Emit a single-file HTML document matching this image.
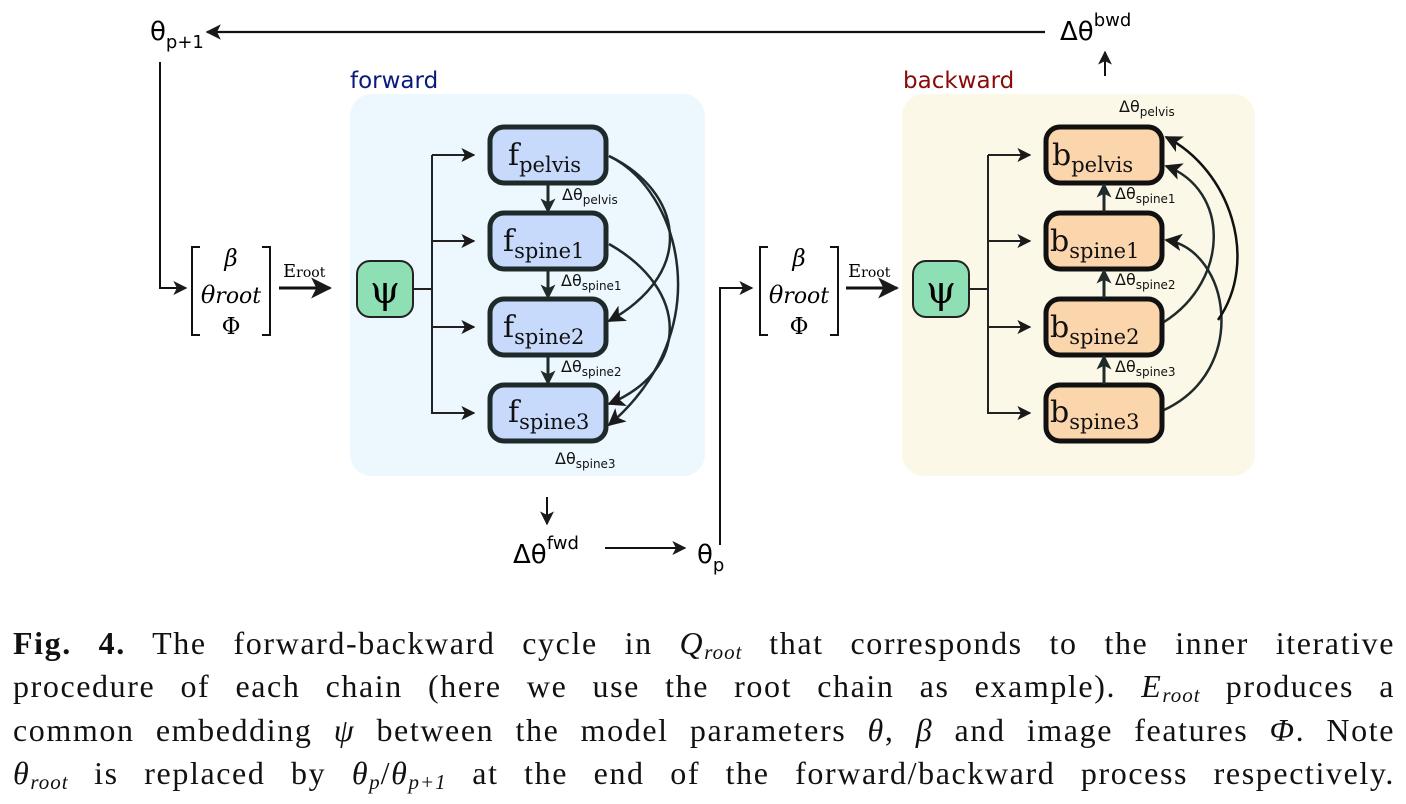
<!DOCTYPE html>
<html><head><meta charset="utf-8"><style>
html,body{margin:0;padding:0;background:#fff;width:1406px;height:797px;overflow:hidden}
svg{position:absolute;left:0;top:0}
.cap{position:absolute;left:13px;top:622px;width:1382px;font-family:"Liberation Serif",serif;font-size:32px;letter-spacing:1.6px;line-height:43.3px;color:#111}
.cap div{text-align:justify;text-align-last:justify;white-space:nowrap;height:43.3px}
.cap i{font-style:italic}
.cap sub{font-size:21px;vertical-align:-5px;letter-spacing:1px}
</style></head><body>
<svg width="1406" height="600" viewBox="0 0 1406 600" font-family="'DejaVu Sans','Liberation Sans',sans-serif">
<defs>
<marker id="a" viewBox="0 0 10 10" refX="9" refY="5" markerWidth="7" markerHeight="7" orient="auto-start-reverse"><path d="M0,0 L10,5 L0,10 L2.5,5z" fill="#1a1a1a"/></marker>
<marker id="b" viewBox="0 0 10 10" refX="9" refY="5" markerWidth="5" markerHeight="5" orient="auto"><path d="M0,0 L10,5 L0,10 L2.5,5z" fill="#1f2a2a"/></marker>
</defs>
<rect x="350" y="94" width="355" height="382" rx="22" fill="#ecf8fd"/>
<rect x="902" y="94" width="353" height="382" rx="22" fill="#fcf8e8"/>
<text x="350" y="88" font-size="23" fill="#0a1a7a">forward</text>
<text x="903" y="88" font-size="23" fill="#8a0a0a">backward</text>
<line x1="1045" y1="32" x2="207" y2="32" stroke="#111" stroke-width="2.2" marker-end="url(#a)"/>
<text x="150" y="40" font-size="26">θ<tspan font-size="18" dy="8">p+1</tspan></text>
<text x="1060" y="40" font-size="26">Δθ<tspan font-size="18" dy="-14">bwd</tspan></text>
<line x1="1105" y1="76" x2="1105" y2="52" stroke="#111" stroke-width="2" marker-end="url(#a)"/>
<polyline points="160,62 160,288 186,288" fill="none" stroke="#111" stroke-width="2" marker-end="url(#a)"/>
<g fill="none" stroke="#111" stroke-width="2"><path d="M200,247 h-8 v88 h8"/><path d="M262,247 h8 v88 h-8"/>
<path d="M768,247 h-8 v88 h8"/><path d="M830,247 h8 v88 h-8"/></g>
<g font-family="'DejaVu Serif','Liberation Serif',serif" text-anchor="middle">
<text x="231" y="266" font-size="23" font-style="italic">β</text>
<text x="231" y="303" font-size="24" font-style="italic">θ<tspan font-size="22">root</tspan></text>
<text x="231" y="334" font-size="23">Φ</text>
<text x="799" y="266" font-size="23" font-style="italic">β</text>
<text x="799" y="303" font-size="24" font-style="italic">θ<tspan font-size="22">root</tspan></text>
<text x="799" y="334" font-size="23">Φ</text>
<text x="283" y="277" font-size="18" text-anchor="start">E<tspan font-size="14">root</tspan></text>
<text x="848" y="277" font-size="18" text-anchor="start">E<tspan font-size="14">root</tspan></text>
</g>
<line x1="279" y1="288" x2="330" y2="288" stroke="#111" stroke-width="3" marker-end="url(#a)"/>
<line x1="846" y1="288" x2="897" y2="288" stroke="#111" stroke-width="3" marker-end="url(#a)"/>
<polyline points="720,545 720,288 752,288" fill="none" stroke="#111" stroke-width="2" marker-end="url(#a)"/>
<line x1="547" y1="497" x2="547" y2="524" stroke="#111" stroke-width="2" marker-end="url(#a)"/>
<text x="513" y="563" font-size="26">Δθ<tspan font-size="18" dy="-14">fwd</tspan></text>
<line x1="605" y1="548" x2="685" y2="548" stroke="#111" stroke-width="2" marker-end="url(#a)"/>
<text x="697" y="563" font-size="26">θ<tspan font-size="18" dy="8">p</tspan></text>
<rect x="357" y="261" width="56" height="56" rx="13" fill="#8ee0b4" stroke="#222" stroke-width="2"/>
<rect x="913" y="261" width="56" height="56" rx="13" fill="#8ee0b4" stroke="#222" stroke-width="2"/>
<text x="385" y="303" font-size="38" text-anchor="middle" font-family="'DejaVu Serif',serif">ψ</text>
<text x="941" y="303" font-size="38" text-anchor="middle" font-family="'DejaVu Serif',serif">ψ</text>
<g fill="none" stroke="#222" stroke-width="2">
<path d="M413,289 H432 M432,155 V414"/><path d="M969,289 H988 M988,155 V414"/>
</g>
<g stroke="#222" stroke-width="2" marker-end="url(#a)">
<line x1="432" y1="155" x2="474" y2="155"/><line x1="432" y1="241" x2="474" y2="241"/><line x1="432" y1="327" x2="474" y2="327"/><line x1="432" y1="413" x2="474" y2="413"/>
<line x1="988" y1="155" x2="1030" y2="155"/><line x1="988" y1="241" x2="1030" y2="241"/><line x1="988" y1="327" x2="1030" y2="327"/><line x1="988" y1="413" x2="1030" y2="413"/>
</g>
<g fill="#c8dafc" stroke="#1e2a2a" stroke-width="5">
<rect x="490" y="127" width="116" height="56" rx="14"/><rect x="490" y="213" width="116" height="56" rx="14"/><rect x="490" y="299" width="116" height="56" rx="14"/><rect x="490" y="385" width="116" height="56" rx="14"/>
</g>
<g fill="#fbd5ac" stroke="#111" stroke-width="5">
<rect x="1046" y="127" width="116" height="56" rx="14"/><rect x="1046" y="213" width="116" height="56" rx="14"/><rect x="1046" y="299" width="116" height="56" rx="14"/><rect x="1046" y="385" width="116" height="56" rx="14"/>
</g>
<g font-family="'DejaVu Serif','Liberation Serif',serif" font-size="30" fill="#111">
<text x="508" y="165">f<tspan font-size="21" dy="7">pelvis</tspan></text>
<text x="503" y="251">f<tspan font-size="21" dy="7">spine1</tspan></text>
<text x="503" y="337">f<tspan font-size="21" dy="7">spine2</tspan></text>
<text x="508" y="422">f<tspan font-size="21" dy="7">spine3</tspan></text>
<text x="1052" y="165">b<tspan font-size="21" dy="7">pelvis</tspan></text>
<text x="1050" y="251">b<tspan font-size="21" dy="7">spine1</tspan></text>
<text x="1050" y="337">b<tspan font-size="21" dy="7">spine2</tspan></text>
<text x="1050" y="422">b<tspan font-size="21" dy="7">spine3</tspan></text>
</g>
<g stroke="#1f2a2a" stroke-width="3" marker-end="url(#b)">
<line x1="548" y1="184" x2="548" y2="212"/><line x1="548" y1="270" x2="548" y2="298"/><line x1="548" y1="356" x2="548" y2="384"/>
<line x1="1104" y1="212" x2="1104" y2="184"/><line x1="1104" y1="298" x2="1104" y2="270"/><line x1="1104" y1="384" x2="1104" y2="356"/>
</g>
<g font-size="16" fill="#111">
<text x="562" y="200">Δθ<tspan font-size="12" dy="4">pelvis</tspan></text>
<text x="561" y="286">Δθ<tspan font-size="12" dy="4">spine1</tspan></text>
<text x="561" y="372">Δθ<tspan font-size="12" dy="4">spine2</tspan></text>
<text x="555" y="464">Δθ<tspan font-size="12" dy="4">spine3</tspan></text>
<text x="1119" y="112">Δθ<tspan font-size="12" dy="4">pelvis</tspan></text>
<text x="1115" y="199">Δθ<tspan font-size="12" dy="4">spine1</tspan></text>
<text x="1115" y="285">Δθ<tspan font-size="12" dy="4">spine2</tspan></text>
<text x="1115" y="372">Δθ<tspan font-size="12" dy="4">spine3</tspan></text>
</g>
<g fill="none" stroke="#1f2a2a" stroke-width="2.5" marker-end="url(#a)">
<path d="M609,156 C680,190 700,270 609,321"/>
<path d="M609,156 C680,190 720,330 609,425"/>
<path d="M609,244 C690,290 690,370 609,404"/>
<path d="M1164,322 C1230,280 1230,190 1166,166"/>
<path d="M1164,410 C1250,370 1230,250 1166,240"/>
<path d="M1218,320 C1260,260 1230,170 1166,137" stroke="#111"/>
</g>
</svg>
<div class="cap">
<div><b>Fig. 4.</b> The forward-backward cycle in <i>Q<sub>root</sub></i> that corresponds to the inner iterative</div>
<div>procedure of each chain (here we use the root chain as example). <i>E<sub>root</sub></i> produces a</div>
<div>common embedding <i>ψ</i> between the model parameters <i>θ</i>, <i>β</i> and image features <i>Φ</i>. Note</div>
<div><i>θ<sub>root</sub></i> is replaced by <i>θ<sub>p</sub></i>/<i>θ<sub>p+1</sub></i> at the end of the forward/backward process respectively.</div>
</div>
</body></html>
